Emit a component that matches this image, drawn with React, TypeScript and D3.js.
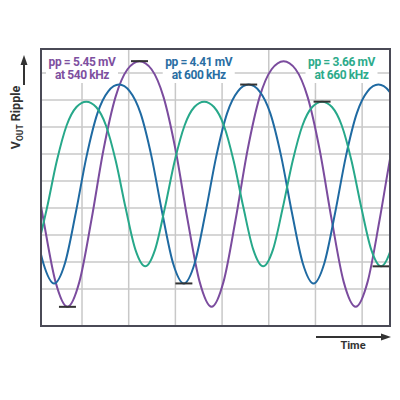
import React from "react";
import * as d3 from "d3";

// time in µs, voltage in mV (relative to mean)
const timeGrid = [0, 0.6, 1.2, 1.8, 2.4, 3.0, 3.6];
const voltGrid = [2.467, 1.867, 1.267, 0.667, 0.067, -0.533, -1.133, -1.733, -2.333];

const seriesNames = ["540 kHz", "600 kHz", "660 kHz"];
const seriesPP = ["5.45", "4.41", "3.66"];

const purple540: [number, number][] = [
  [-0.65, 0.76], [-0.496, -0.79], [-0.341, -2.17], [-0.187, -2.73], [-0.033, -2.17],
  [0.122, -0.79], [0.276, 0.76], [0.43, 1.93], [0.585, 2.55], [0.739, 2.73],
  [0.893, 2.55], [1.048, 1.93], [1.202, 0.76], [1.356, -0.79], [1.511, -2.17],
  [1.665, -2.73], [1.819, -2.17], [1.974, -0.79], [2.128, 0.76], [2.282, 1.93],
  [2.437, 2.55], [2.591, 2.73], [2.745, 2.55], [2.9, 1.93], [3.054, 0.76],
  [3.208, -0.79], [3.362, -2.17], [3.517, -2.73], [3.671, -2.17], [3.825, -0.79],
  [3.98, 0.76], [4.134, 1.93],
];

const blue600: [number, number][] = [
  [-0.636, -0.64], [-0.497, -1.76], [-0.358, -2.21], [-0.219, -1.76], [-0.08, -0.64],
  [0.059, 0.62], [0.198, 1.57], [0.337, 2.06], [0.476, 2.21], [0.614, 2.06],
  [0.753, 1.57], [0.892, 0.62], [1.031, -0.64], [1.17, -1.76], [1.309, -2.21],
  [1.448, -1.76], [1.587, -0.64], [1.726, 0.62], [1.864, 1.57], [2.003, 2.06],
  [2.142, 2.21], [2.281, 2.06], [2.42, 1.57], [2.559, 0.62], [2.698, -0.64],
  [2.837, -1.76], [2.976, -2.21], [3.114, -1.76], [3.253, -0.64], [3.392, 0.62],
  [3.531, 1.57], [3.67, 2.06], [3.809, 2.21], [3.948, 2.06], [4.087, 1.57],
];

const green660: [number, number][] = [
  [-0.576, -1.46], [-0.45, -0.53], [-0.324, 0.51], [-0.198, 1.3], [-0.071, 1.71],
  [0.055, 1.83], [0.181, 1.71], [0.308, 1.3], [0.434, 0.51], [0.56, -0.53],
  [0.686, -1.46], [0.813, -1.83], [0.939, -1.46], [1.065, -0.53], [1.191, 0.51],
  [1.318, 1.3], [1.444, 1.71], [1.57, 1.83], [1.696, 1.71], [1.823, 1.3],
  [1.949, 0.51], [2.075, -0.53], [2.201, -1.46], [2.328, -1.83], [2.454, -1.46],
  [2.58, -0.53], [2.707, 0.51], [2.833, 1.3], [2.959, 1.71], [3.085, 1.83],
  [3.212, 1.71], [3.338, 1.3], [3.464, 0.51], [3.59, -0.53], [3.717, -1.46],
  [3.843, -1.83], [3.969, -1.46], [4.095, -0.53],
];

// peak / trough markers: [time, value]
const purpleMarks: [number, number][] = [[0.739, 2.73], [-0.187, -2.73]];
const blueMarks: [number, number][] = [[2.142, 2.21], [1.309, -2.21]];
const greenMarks: [number, number][] = [[3.085, 1.83], [3.843, -1.83]];

// label anchor positions in data units (time, value)
const labelTimes = [0.0, 1.5, 3.335];

const colors = ["#7b4c9e", "#1f6aa2", "#27a88a"];
const textColors = ["#7e50a0", "#2a6ea3", "#2dab8b"];

export default function App() {
  const left = 41, right = 390, top = 49, bottom = 326;
  const x = d3.scaleLinear().domain([-0.527, 3.958]).range([left, right]);
  const y = d3.scaleLinear().domain([-3.156, 3.0]).range([bottom, top]);

  const line = d3
    .line<[number, number]>()
    .x((d) => x(d[0]))
    .y((d) => y(d[1]))
    .curve(d3.curveMonotoneX);

  const series = [purple540, blue600, green660];
  const marks = [purpleMarks, blueMarks, greenMarks];
  const font = "Roboto, 'DejaVu Sans', sans-serif";

  return (
    <svg
      width={400}
      height={400}
      style={{ position: "absolute", left: 0, top: 0, background: "#fff" }}
    >
      <defs>
        <clipPath id="plot">
          <rect x={left} y={top} width={right - left} height={bottom - top} />
        </clipPath>
      </defs>
      <rect x={0} y={0} width={400} height={400} fill="#fff" />
      {/* grid */}
      {timeGrid.map((t) => (
        <line key={"gx" + t} x1={x(t)} x2={x(t)} y1={top} y2={bottom} stroke="#c8c8c8" strokeWidth={1.5} />
      ))}
      {voltGrid.map((v) => (
        <line key={"gy" + v} x1={left} x2={right} y1={y(v)} y2={y(v)} stroke="#c8c8c8" strokeWidth={1.5} />
      ))}
      {/* label backgrounds */}
      {labelTimes.map((t, i) => (
        <rect key={"lb" + i} x={x(t) - 36} y={top + 1} width={72} height={33} fill="#fff" />
      ))}
      {/* curves */}
      <g clipPath="url(#plot)">
        {series.map((s, i) => (
          <path key={"s" + i} d={line(s) || ""} fill="none" stroke={colors[i]} strokeWidth={2} />
        ))}
        {marks.map((m, i) =>
          m.map((p, j) => (
            <line
              key={"m" + i + "-" + j}
              x1={x(p[0]) - 8.5}
              x2={x(p[0]) + 8.5}
              y1={y(p[1])}
              y2={y(p[1])}
              stroke="#333"
              strokeWidth={2}
            />
          ))
        )}
      </g>
      {/* frame */}
      <rect x={left} y={top} width={right - left} height={bottom - top} fill="none" stroke="#4a4a56" strokeWidth={2} />
      {/* labels */}
      {labelTimes.map((t, i) => (
        <text
          key={"lt" + i}
          x={x(t)}
          textAnchor="middle"
          fontFamily={font}
          fontWeight={700}
          fontSize={12}
          letterSpacing={-0.4}
          fill={textColors[i]}
        >
          <tspan x={x(t)} y={66}>{`pp = ${seriesPP[i]} mV`}</tspan>
          <tspan x={x(t)} y={78.5}>{`at ${seriesNames[i]}`}</tspan>
        </text>
      ))}
      {/* y-axis arrow and label */}
      <line x1={24} x2={24} y1={85} y2={63} stroke="#333" strokeWidth={2} />
      <path d="M24,55 L27.5,65 L20.5,65 Z" fill="#333" />
      <text
        transform="translate(19.5,117.5) rotate(-90)"
        textAnchor="middle"
        fontFamily={font}
        fontWeight={700}
        fontSize={12.5}
        fill="#333"
      >
        V<tspan fontSize={8.5} dy={3}>OUT</tspan>
        <tspan dy={-3}> Ripple</tspan>
      </text>
      {/* time arrow and label */}
      <line x1={316} x2={383} y1={337} y2={337} stroke="#333" strokeWidth={2} />
      <path d="M391,337 L381,333.5 L381,340.5 Z" fill="#333" />
      <text x={353} y={348.5} textAnchor="middle" fontFamily={font} fontWeight={700} fontSize={11} fill="#333">
        Time
      </text>
    </svg>
  );
}
